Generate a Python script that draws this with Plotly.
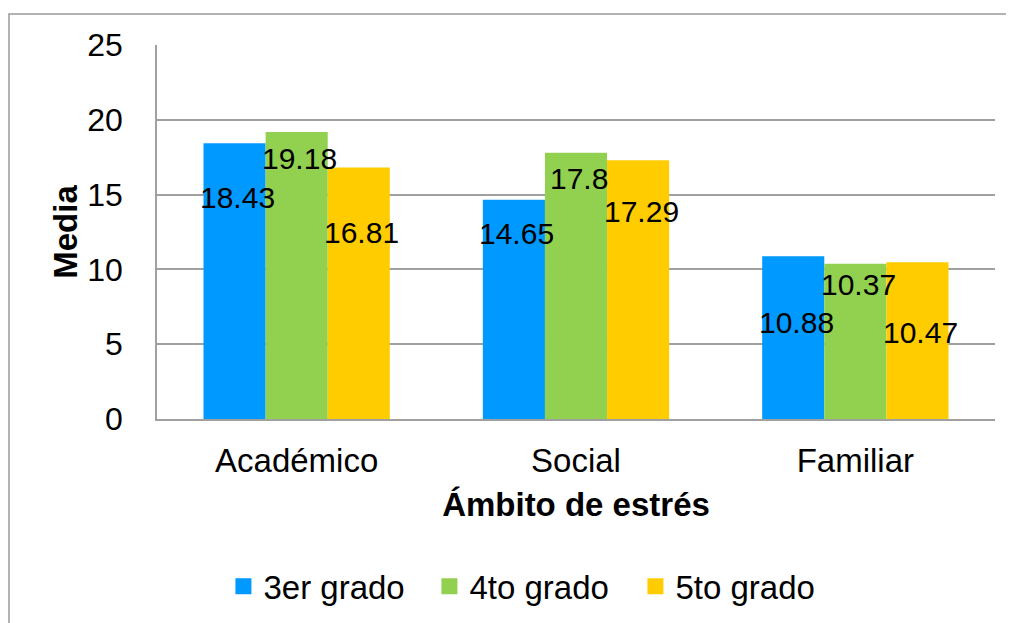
import plotly.graph_objects as go

categories = ["Académico", "Social", "Familiar"]
series_names = ["3er grado", "4to grado", "5to grado"]
values_3er = [18.43, 14.65, 10.88]
values_4to = [19.18, 17.80, 10.37]
values_5to = [16.81, 17.29, 10.47]
label_text_3er = ["18.43", "14.65", "10.88"]
label_text_4to = ["19.18", "17.8", "10.37"]
label_text_5to = ["16.81", "17.29", "10.47"]
# vertical position (data units) of each hand-placed data label
label_y_3er = [14.8, 12.4, 6.45]
label_y_4to = [17.4, 16.1, 9.0]
label_y_5to = [12.5, 13.9, 5.8]
y_ticks = [0, 5, 10, 15, 20, 25]

colors = ["#0099FF", "#92D050", "#FFCC00"]
FONT = "Liberation Sans, Arial, sans-serif"

# page has an 8px body margin, so the figure is 8px smaller than the window
W, H = 1006, 615
ML, MR, MT, MB = 149, 19, 37, 204
plot_w = W - ML - MR
plot_h = H - MT - MB
bargap = 0.333
bar_px = plot_w / len(categories) * (1 - bargap) / 3

fig = go.Figure()
series_vals = [values_3er, values_4to, values_5to]
series_lbl = [label_text_3er, label_text_4to, label_text_5to]
series_ly = [label_y_3er, label_y_4to, label_y_5to]

for name, vals, col in zip(series_names, series_vals, colors):
    fig.add_trace(go.Bar(x=categories, y=vals, name=name, showlegend=False,
                         marker=dict(color=col, line=dict(width=0))))
# legend-only entries with larger square keys
for name, col in zip(series_names, colors):
    fig.add_trace(go.Scatter(x=[None], y=[None], mode="markers", name=name,
                             marker=dict(symbol="square", size=16, color=col,
                                         line=dict(width=0))))

annotations = []
for i, (lbls, lys) in enumerate(zip(series_lbl, series_ly)):
    for cat, t, ly in zip(categories, lbls, lys):
        annotations.append(dict(x=cat, y=ly, xref="x", yref="y", text=t,
                                showarrow=False, xshift=(i - 1) * bar_px + 3,
                                font=dict(family=FONT, size=30, color="black")))

# outer chart border
y_top_paper = (plot_h + MT - 6) / plot_h
x_left_paper = (1 - ML) / plot_w
fig.add_shape(type="rect", xref="paper", yref="paper",
              x0=x_left_paper, x1=1.2, y0=-0.8, y1=y_top_paper,
              line=dict(color="#9a9a9a", width=1.5), fillcolor="rgba(0,0,0,0)",
              layer="below")

fig.update_layout(
    width=W, height=H,
    margin=dict(l=ML, r=MR, t=MT, b=MB, autoexpand=False),
    paper_bgcolor="white", plot_bgcolor="white",
    barmode="group", bargap=bargap, bargroupgap=0,
    font=dict(family=FONT, size=32, color="black"),
    annotations=annotations,
    showlegend=True,
    legend=dict(orientation="h", x=0.448, xanchor="center", y=-0.447, yanchor="middle",
                font=dict(family=FONT, size=33, color="black"),
                itemclick=False, traceorder="normal", itemsizing="trace",
                entrywidth=161, entrywidthmode="pixels"),
    xaxis=dict(
        showgrid=False, showline=True, linecolor="#a0a0a0", linewidth=1.5,
        ticks="", tickfont=dict(size=33), ticklabelstandoff=12,
        title=dict(text="<b>Ámbito de estrés</b>", font=dict(size=33), standoff=15),
        automargin=False,
    ),
    yaxis=dict(
        range=[0, 25], tickvals=y_ticks, showgrid=True, gridcolor="#a0a0a0", gridwidth=1.5,
        showline=True, linecolor="#a0a0a0", linewidth=1.5, zeroline=False,
        ticks="", tickfont=dict(size=32), ticklabelstandoff=26,
        title=dict(text="<b>Media</b>", font=dict(size=33), standoff=0),
        automargin=False,
    ),
)

fig.write_html("out.html")
